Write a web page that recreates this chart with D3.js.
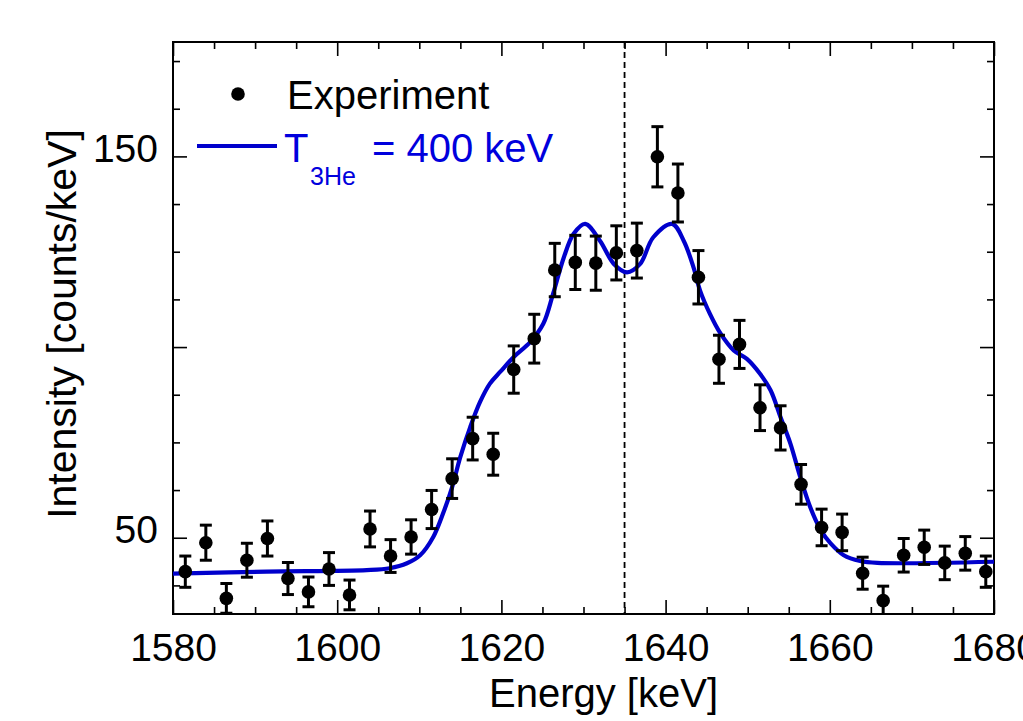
<!DOCTYPE html>
<html>
<head>
<meta charset="utf-8">
<script src="https://cdn.jsdelivr.net/npm/d3@7"></script>
<style>
  html, body { margin: 0; padding: 0; background: #fff; }
  svg { display: block; }
  text { font-family: "Liberation Sans", Arial, sans-serif; }
</style>
</head>
<body>
<svg id="chart" width="1023" height="721"></svg>
<script>
// ---- Data ----
const energies = [1581.5, 1584, 1586.5, 1589, 1591.5, 1594, 1596.5, 1599, 1601.5, 1604,
  1606.5, 1609, 1611.5, 1614, 1616.5, 1619, 1621.5, 1624, 1626.5, 1629,
  1631.5, 1634, 1636.5, 1639, 1641.5, 1644, 1646.5, 1649, 1651.5, 1654,
  1656.5, 1659, 1661.5, 1664, 1666.5, 1669, 1671.5, 1674, 1676.5, 1679];
const intensities = [41.1, 48.7, 34.1, 44.1, 49.8, 39.3, 35.8, 41.8, 35.0, 52.3,
  45.2, 50.2, 57.4, 65.5, 76.0, 71.9, 94.1, 102.2, 120.2, 122.2,
  122.0, 124.7, 125.3, 149.9, 140.4, 118.3, 96.8, 100.7, 84.1, 78.8,
  64.0, 52.7, 51.4, 40.7, 33.5, 45.4, 47.5, 43.4, 45.9, 41.1];
const errors = [4.1, 4.6, 3.9, 4.45, 4.6, 4.2, 3.9, 4.3, 3.9, 4.7,
  4.3, 4.5, 5.0, 5.2, 5.6, 5.5, 6.2, 6.4, 7.0, 7.1,
  7.1, 7.1, 7.2, 7.9, 7.6, 7.0, 6.3, 6.3, 6.0, 5.8,
  5.2, 4.8, 4.8, 4.2, 3.8, 4.4, 4.5, 4.4, 4.4, 4.1];

// Fitted curve (T_3He = 400 keV)
const curveE = [1580, 1591.4, 1603.6, 1606.4, 1608.5, 1610.1, 1611.7, 1612.9, 1614.0, 1615.0,
  1616.2, 1617.4, 1618.6, 1619.9, 1621.5, 1623.5, 1625.1, 1626.3, 1627.6, 1628.8,
  1630.2, 1632.0, 1633.7, 1635.3, 1636.9, 1638.5, 1640.8, 1642.2, 1643.4, 1644.2,
  1645.4, 1646.7, 1648.3, 1649.9, 1651.5, 1652.8, 1654.0, 1655.2, 1656.4, 1657.6,
  1658.9, 1660.1, 1661.7, 1663.7, 1665.8, 1680];
const curveV = [40.6, 41.1, 41.5, 42.0, 43.3, 45.4, 50.2, 56.4, 63.3, 71.2,
  79.0, 85.6, 90.4, 93.6, 97.4, 101.3, 106.1, 114.0, 123.5, 129.7,
  132.3, 127.9, 121.8, 119.6, 121.8, 128.8, 132.3, 127.9, 120.9, 114.8,
  108.7, 103.5, 99.1, 96.9, 93.0, 88.6, 81.6, 74.7, 65.9, 58.1,
  52.0, 48.5, 45.4, 43.9, 43.4, 43.7];

const refEnergy = 1635;
const xDomain = [1580, 1680];
const yDomain = [30, 180];
const xMajorTicks = [1580, 1600, 1620, 1640, 1660, 1680];
const xMinorTicks = [1585, 1590, 1595, 1605, 1610, 1615, 1625, 1630, 1635, 1645, 1650, 1655, 1665, 1670, 1675];
const yMajorTicks = [50, 100, 150];
const yLabelTicks = [50, 150];
const yMinorTicks = [37.5, 62.5, 75, 87.5, 112.5, 125, 137.5, 162.5, 175];

// ---- Layout ----
const L = 173, R = 994, T = 42, B = 614;
const svg = d3.select("#chart");
svg.append("rect").attr("width", 1023).attr("height", 721).attr("fill", "#fff");

const x = d3.scaleLinear().domain(xDomain).range([L, R]);
const y = d3.scaleLinear().domain(yDomain).range([B, T]);

svg.append("defs").append("clipPath").attr("id", "clip")
  .append("rect").attr("x", L).attr("y", T).attr("width", R - L).attr("height", B - T);

const fs = 39;
function styleAxis(g) {
  g.select(".domain").remove();
  g.selectAll(".tick line").attr("stroke", "#000").attr("stroke-width", 1.6);
  g.selectAll("text").attr("font-size", fs + "px").attr("fill", "#000")
    .attr("font-family", "'Liberation Sans', Arial, sans-serif");
}

// bottom
svg.append("g").attr("transform", `translate(0,${B})`)
  .call(d3.axisBottom(x).tickValues(xMinorTicks).tickSize(-7).tickFormat(""))
  .call(styleAxis);
svg.append("g").attr("transform", `translate(0,${B})`)
  .call(d3.axisBottom(x).tickValues(xMajorTicks).tickSize(-14).tickPadding(19).tickFormat(d3.format("d")))
  .call(styleAxis);
// top
svg.append("g").attr("transform", `translate(0,${T})`)
  .call(d3.axisTop(x).tickValues(xMinorTicks).tickSize(-7).tickFormat(""))
  .call(styleAxis);
svg.append("g").attr("transform", `translate(0,${T})`)
  .call(d3.axisTop(x).tickValues(xMajorTicks).tickSize(-14).tickFormat(""))
  .call(styleAxis);
// left
svg.append("g").attr("transform", `translate(${L},0)`)
  .call(d3.axisLeft(y).tickValues(yMinorTicks).tickSize(-7).tickFormat(""))
  .call(styleAxis);
svg.append("g").attr("transform", `translate(${L},0)`)
  .call(d3.axisLeft(y).tickValues(yMajorTicks).tickSize(-14).tickPadding(15)
    .tickFormat(d => yLabelTicks.includes(d) ? d3.format("d")(d) : ""))
  .call(styleAxis)
  .call(g => g.selectAll("text").attr("dy", "0.13em"));
// right
svg.append("g").attr("transform", `translate(${R},0)`)
  .call(d3.axisRight(y).tickValues(yMinorTicks).tickSize(-7).tickFormat(""))
  .call(styleAxis);
svg.append("g").attr("transform", `translate(${R},0)`)
  .call(d3.axisRight(y).tickValues(yMajorTicks).tickSize(-14).tickFormat(""))
  .call(styleAxis);

// frame
svg.append("rect").attr("x", L).attr("y", T).attr("width", R - L).attr("height", B - T)
  .attr("fill", "none").attr("stroke", "#000").attr("stroke-width", 2);

const plot = svg.append("g").attr("clip-path", "url(#clip)");

// dashed reference line
plot.append("line")
  .attr("x1", x(refEnergy)).attr("x2", x(refEnergy))
  .attr("y1", T).attr("y2", B)
  .attr("stroke", "#000").attr("stroke-width", 1.8).attr("stroke-dasharray", "6,4");

// curve
const curveData = curveE.map((e, i) => [e, curveV[i]]);
plot.append("path").datum(curveData)
  .attr("fill", "none").attr("stroke", "#0000cc").attr("stroke-width", 4.2)
  .attr("stroke-linejoin", "round")
  .attr("d", d3.line().x(d => x(d[0])).y(d => y(d[1])).curve(d3.curveCatmullRom.alpha(0.5)));

// data points with error bars
const pts = energies.map((e, i) => ({ e, v: intensities[i], err: errors[i] }));
const eb = plot.append("g").attr("stroke", "#000").attr("stroke-width", 3);
const cap = 6;
eb.selectAll("line.v").data(pts).join("line").attr("class", "v")
  .attr("x1", d => x(d.e)).attr("x2", d => x(d.e))
  .attr("y1", d => y(d.v - d.err)).attr("y2", d => y(d.v + d.err));
eb.selectAll("line.t").data(pts).join("line").attr("class", "t")
  .attr("x1", d => x(d.e) - cap).attr("x2", d => x(d.e) + cap)
  .attr("y1", d => y(d.v + d.err)).attr("y2", d => y(d.v + d.err));
eb.selectAll("line.b").data(pts).join("line").attr("class", "b")
  .attr("x1", d => x(d.e) - cap).attr("x2", d => x(d.e) + cap)
  .attr("y1", d => y(d.v - d.err)).attr("y2", d => y(d.v - d.err));
plot.append("g").selectAll("circle").data(pts).join("circle")
  .attr("cx", d => x(d.e)).attr("cy", d => y(d.v)).attr("r", 6.8).attr("fill", "#000");

// legend
svg.append("circle").attr("cx", 238).attr("cy", 94).attr("r", 6.8).attr("fill", "#000");
svg.append("text").attr("x", 287).attr("y", 109).attr("font-size", "40px").attr("fill", "#000")
  .text("Experiment");
svg.append("line").attr("x1", 197).attr("x2", 277).attr("y1", 146).attr("y2", 146)
  .attr("stroke", "#0000cc").attr("stroke-width", 4.2);
svg.append("text").attr("x", 284).attr("y", 162).attr("font-size", "40px").attr("fill", "#0000dd")
  .text("T");
svg.append("text").attr("x", 310).attr("y", 185).attr("font-size", "25px").attr("fill", "#0000dd")
  .text("3He");
svg.append("text").attr("x", 372).attr("y", 162).attr("font-size", "40px").attr("fill", "#0000dd")
  .text("= 400 keV");

// axis titles
svg.append("text").attr("x", (L + R) / 2 + 20).attr("y", 707).attr("text-anchor", "middle")
  .attr("font-size", "40px").attr("fill", "#000").text("Energy [keV]");
svg.append("text").attr("transform", "translate(76,324) rotate(-90)").attr("text-anchor", "middle")
  .attr("font-size", "41px").attr("fill", "#000").text("Intensity [counts/keV]");
</script>
</body>
</html>
